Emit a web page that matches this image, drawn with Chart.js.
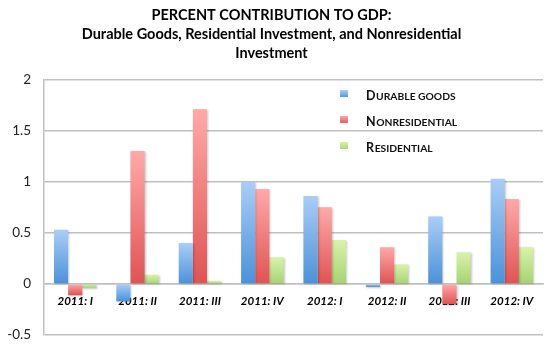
<!DOCTYPE html>
<html>
<head>
<meta charset="utf-8">
<script src="https://cdn.jsdelivr.net/npm/chart.js@4/dist/chart.umd.min.js"></script>
<style>
html,body{margin:0;padding:0;background:#fff;}
#wrap{width:558px;height:363px;position:relative;}
</style>
</head>
<body>
<div id="wrap"><canvas id="c" width="558" height="363"></canvas></div>
<script>
const categories = ['2011: I','2011: II','2011: III','2011: IV','2012: I','2012: II','2012: III','2012: IV'];
const durableGoods = [0.53, -0.17, 0.40, 1.00, 0.86, -0.03, 0.66, 1.03];
const nonresidential = [-0.11, 1.30, 1.71, 0.93, 0.75, 0.36, -0.20, 0.83];
const residential = [-0.04, 0.09, 0.03, 0.26, 0.43, 0.19, 0.31, 0.36];
const seriesNames = ['Durable goods', 'Nonresidential', 'Residential'];
const titleLines = ['PERCENT CONTRIBUTION TO GDP:', 'Durable Goods, Residential Investment, and Nonresidential', 'Investment'];

const FONT = "Lato, 'Liberation Sans', sans-serif";
const palettes = [
  ['#aacdf6', '#4b91d9'],
  ['#ffa9a9', '#df5353'],
  ['#daf2ab', '#a6d372']
];

function grad(idx) {
  const [light, dark] = palettes[idx];
  return (ctx) => {
    const chart = ctx.chart;
    if (!chart.chartArea || ctx.type !== 'data') return dark;
    const y = chart.scales.y;
    const y0 = y.getPixelForValue(0), y1 = y.getPixelForValue(ctx.raw);
    const top = Math.min(y0, y1), bot = Math.max(y0, y1);
    if (bot - top < 1) return dark;
    const g = chart.ctx.createLinearGradient(0, top, 0, bot);
    g.addColorStop(0, light);
    g.addColorStop(1, dark);
    return g;
  };
}

const shadowPlugin = {
  id: 'barShadow',
  beforeDatasetsDraw(chart) {
    const c = chart.ctx;
    c.save();
    c.shadowColor = 'rgba(0,0,0,0.22)';
    c.shadowBlur = 2;
    c.shadowOffsetX = 1;
    c.shadowOffsetY = 1;
  },
  afterDatasetsDraw(chart) { chart.ctx.restore(); }
};

const legendPlugin = {
  id: 'smallCapsLegend',
  afterDraw(chart) {
    const c = chart.ctx;
    const x0 = 340, y0 = 94, dy = 26;
    chart.data.datasets.forEach((ds, i) => {
      const y = y0 + i * dy;
      const [light, dark] = palettes[i];
      const g = c.createLinearGradient(0, y - 4, 0, y + 4);
      g.addColorStop(0, light); g.addColorStop(1, dark);
      c.save();
      c.fillStyle = g;
      c.fillRect(x0, y - 4, 8, 7);
      c.fillStyle = '#111';
      c.textBaseline = 'alphabetic';
      c.textAlign = 'left';
      const name = ds.label;
      let x = 366;
      const base = y + 5.5;
      c.font = 'bold 12.5px ' + FONT;
      c.fillText(name[0].toUpperCase(), x, base);
      x += c.measureText(name[0].toUpperCase()).width + 0.6;
      c.font = 'bold 10.3px ' + FONT;
      c.fillText(name.slice(1).toUpperCase(), x, base);
      c.restore();
    });
  }
};

new Chart(document.getElementById('c'), {
  type: 'bar',
  data: {
    labels: categories,
    datasets: [
      { label: seriesNames[0], data: durableGoods, backgroundColor: grad(0) },
      { label: seriesNames[1], data: nonresidential, backgroundColor: grad(1) },
      { label: seriesNames[2], data: residential, backgroundColor: grad(2) }
    ]
  },
  options: {
    responsive: false,
    animation: false,
    devicePixelRatio: 1,
    layout: { padding: { left: 0, right: 15, top: 2, bottom: 28 } },
    datasets: { bar: { categoryPercentage: 0.68, barPercentage: 1 } },
    plugins: {
      legend: { display: false },
      tooltip: { enabled: false },
      title: {
        display: true,
        text: titleLines,
        color: '#000',
        font: { family: FONT, size: 14.5, weight: 'bold', lineHeight: 1.3 },
        padding: { top: 4, bottom: 17 }
      }
    },
    scales: {
      x: {
        position: { y: 0 },
        grid: { display: false, drawTicks: false },
        border: { display: true, color: '#c0c0c0', width: 1.5 },
        ticks: { color: '#000', font: { family: FONT, size: 11.5, weight: 'bold', style: 'italic' }, padding: 10, maxRotation: 0, autoSkip: false }
      },
      y: {
        min: -0.5, max: 2,
        afterFit(scale) { scale.width = 44; },
        grid: { color: '#c0c0c0', lineWidth: 1.5, drawTicks: false },
        border: { display: true, color: '#c0c0c0', width: 1.5 },
        ticks: {
          stepSize: 0.5, color: '#222', padding: 13,
          font: { family: FONT, size: 13.5 },
          callback: (v) => String(Math.round(v * 10) / 10)
        }
      }
    }
  },
  plugins: [shadowPlugin, legendPlugin]
});
</script>
</body>
</html>
